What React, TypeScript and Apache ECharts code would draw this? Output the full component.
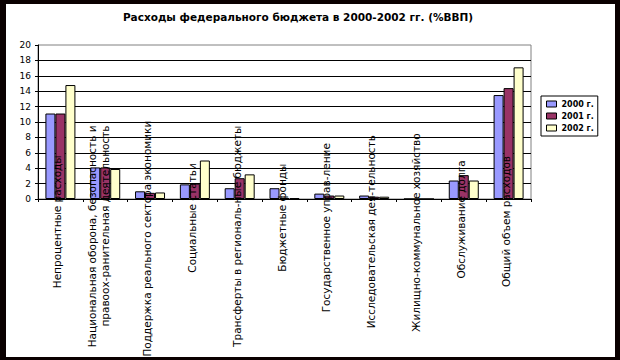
import React, { useEffect, useRef } from "react";
import * as echarts from "echarts";

const titleText = "Расходы федерального бюджета в 2000-2002 гг. (%ВВП)";
const categories = [
  "Непроцентные расходы",
  "Национальная оборона, безопасность и\nправоох-ранительная деятельность",
  "Поддержка реального сектора экономики",
  "Социальные статьи",
  "Трансферты в региональ-ные бюджеты",
  "Бюджетные фонды",
  "Государственное управ-ление",
  "Исследовательская дея-тельность",
  "Жилищно-коммунальное хозяйство",
  "Обслуживание долга",
  "Общий объем расходов",
];
const seriesNames = ["2000 г.", "2001 г.", "2002 г."];
const values2000 = [11.1, 4.1, 1.0, 1.9, 1.4, 1.4, 0.7, 0.45, 0, 2.4, 13.5];
const values2001 = [11.1, 4.1, 0.8, 2.0, 2.7, 0.1, 0.45, 0.3, 0, 3.1, 14.4];
const values2002 = [14.8, 3.9, 0.85, 5.0, 3.2, 0.1, 0.45, 0.3, 0, 2.4, 17.1];
const yTicks = { min: 0, max: 20, interval: 2 };

const colors = ["#9999FF", "#993366", "#FFFFCC"];
const LABEL_FONT = "DejaVu Sans";
const LABEL_SIZE = 10.5;
const LABEL_LIFT = 86;

function measure(text: string): number {
  const c = document.createElement("canvas");
  const ctx = c.getContext("2d");
  if (!ctx) return text.length * 6;
  ctx.font = `${LABEL_SIZE}px "${LABEL_FONT}"`;
  return ctx.measureText(text).width;
}

export default function App() {
  const ref = useRef<HTMLDivElement>(null);
  useEffect(() => {
    if (!ref.current) return;
    const chart = echarts.init(ref.current, null, { renderer: "svg" });
    const catData = categories.map((c) => {
      const lines = c.split("\n");
      const L = Math.max(...lines.map(measure));
      const padR = Math.max(0, LABEL_LIFT + 1 - 0.336 * L);
      const multi = lines.length > 1;
      return {
        value: c,
        textStyle: {
          padding: [0, padR, 0, 0],
          verticalAlign: multi ? "middle" : "bottom",
          lineHeight: multi ? 13.5 : 6,
        },
      };
    });
    const vals = [values2000, values2001, values2002];
    chart.setOption({
      animation: false,
      backgroundColor: "#ffffff",
      title: {
        text: titleText,
        left: 293,
        top: 6,
        textAlign: "center",
        textStyle: {
          fontFamily: LABEL_FONT,
          fontSize: 10.5,
          fontWeight: "bold",
          color: "#000",
        },
      },
      legend: {
        orient: "vertical",
        left: 541,
        top: 96,
        padding: [3, 4, 3, 5],
        borderColor: "#000",
        borderWidth: 1,
        itemWidth: 10,
        itemHeight: 6,
        itemGap: 2,
        icon: "rect",
        itemStyle: { borderColor: "#000", borderWidth: 1 },
        textStyle: {
          fontFamily: LABEL_FONT,
          fontSize: 8,
          fontWeight: "bold",
          color: "#000",
          lineHeight: 10,
        },
        data: seriesNames,
      },
      grid: {
        left: 38,
        right: 89,
        top: 45,
        bottom: 161,
        show: true,
        borderColor: "#808080",
        borderWidth: 1,
        backgroundColor: "transparent",
        outerBoundsMode: "none",
        containLabel: false,
      },
      xAxis: {
        type: "category",
        data: catData,
        z: 10,
        axisLine: { show: true, lineStyle: { color: "#000", width: 1 } },
        axisTick: { show: true, length: 3, alignWithLabel: false, lineStyle: { color: "#000" } },
        axisLabel: {
          interval: 0,
          rotate: 90,
          verticalAlign: "middle",
          margin: -LABEL_LIFT,
          fontFamily: LABEL_FONT,
          fontSize: LABEL_SIZE,
          lineHeight: 13.5,
          color: "#000",
          hideOverlap: false,
          formatter: (v: string) => (v.indexOf("\n") >= 0 ? v + "\n " : v),
        },
        splitLine: { show: false },
      },
      yAxis: {
        type: "value",
        min: yTicks.min,
        max: yTicks.max,
        interval: yTicks.interval,
        axisLine: { show: true, lineStyle: { color: "#000", width: 1 } },
        axisTick: { show: true, length: 3, lineStyle: { color: "#000" } },
        axisLabel: {
          margin: 7,
          fontFamily: LABEL_FONT,
          fontSize: 9,
          color: "#000",
        },
        splitLine: { show: true, showMaxLine: false, lineStyle: { color: "#000", width: 1 } },
      },
      series: seriesNames.map((name, i) => ({
        name,
        type: "bar",
        data: vals[i],
        barWidth: 10,
        barGap: "0%",
        itemStyle: { color: colors[i], borderColor: "#000", borderWidth: 1 },
      })),
    });
    return () => chart.dispose();
  }, []);
  return (
    <div style={{ position: "fixed", left: 0, top: 0, width: 620, height: 360 }}>
      <div ref={ref} style={{ position: "absolute", left: 0, top: 0, width: 620, height: 360 }} />
      <div
        style={{
          position: "absolute",
          left: 0,
          top: 0,
          width: 620,
          height: 360,
          boxSizing: "border-box",
          borderStyle: "solid",
          borderColor: "#0a0000",
          borderWidth: "4px 5px 3px 6px",
          pointerEvents: "none",
        }}
      />
    </div>
  );
}
